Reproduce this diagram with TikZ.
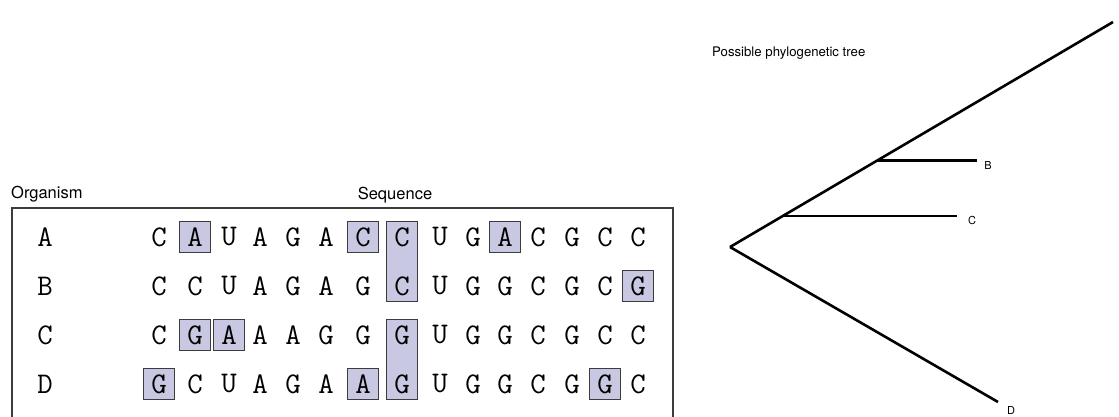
\documentclass[tikz,border=0pt]{standalone}
\usepackage{fontspec}
\newfontfamily\helv{TeX Gyre Heros}
\usetikzlibrary{fit,backgrounds,positioning,calc}

\definecolor{boxfill}{RGB}{200,200,226}
\definecolor{edge}{RGB}{60,60,60}

\tikzset{
  head/.style={font=\helv\fontsize{16.5}{18}\selectfont, inner sep=0pt},
  base/.style={font=\ttfamily\fontsize{30}{31}\selectfont, inner sep=0pt},
  cell/.style={base, minimum width=31pt, minimum height=31pt},
  hilite/.style={draw=edge, fill=boxfill, line width=1.3pt, inner sep=0pt},
  frame/.style={draw=edge, line width=1.3pt},
  branch/.style={line width=2.6pt},
  leaf/.style={font=\helv\fontsize{11}{12}\selectfont, inner sep=1pt},
  title/.style={font=\helv\fontsize{13.2}{14}\selectfont, inner sep=0pt}
}

\begin{document}
\begin{tikzpicture}[x=1pt,y=-1pt]
\path[use as bounding box, clip] (0,0) rectangle (1119,416);

% Headings
\node[head, anchor=west] (orglbl) at (11,194) {Organism};
\node[head] (seqlbl) at (395,195) {Sequence};

% Frame round the table
\draw[frame] (12,208) rectangle (673,440);

% Organism names
\foreach \r/\y in {A/237,B/286,C/335,D/384}
  \node[base] (o-\r) at (45,\y) {\r};

% Sequences
\foreach \r/\y/\seq in {A/237/{C,A,U,A,G,A,C,C,U,G,A,C,G,C,C},
                        B/286/{C,C,U,A,G,A,G,C,U,G,G,C,G,C,G},
                        C/335/{C,G,A,A,A,G,G,G,U,G,G,C,G,C,C},
                        D/384/{G,C,U,A,G,A,A,G,U,G,G,C,G,G,C}}
  \foreach \l [count=\i] in \seq {
    \pgfmathsetmacro{\x}{{159,195,229,260,293,326,363,402,440,473,505,538,572,605,638}[\i-1]}
    \node[cell] (s-\r-\i) at (\x,\y) {\l};
  }

% Highlighted differences
\begin{scope}[on background layer]
  \foreach \c in {A-2,A-7,A-11,B-15,C-2,C-3,D-1,D-7,D-14}
    \node[hilite, fit=(s-\c)] {};
  \node[hilite, fit=(s-A-8)(s-B-8)] (colAB) {};
  \node[hilite, fit=(s-C-8)(s-D-8)] (colCD) {};
\end{scope}

% Tree
\node[title, anchor=west] (treelbl) at (712,53) {Possible phylogenetic tree};

\coordinate (root) at (730,247);
\coordinate (tipA) at (1113,22);
\coordinate (jC) at ($(root)!0.138!(tipA)$);
\coordinate (jB) at ($(root)!0.384!(tipA)$);
\coordinate (endB) at ($(jB)+(100,0)$);
\coordinate (endC) at ($(jC)+(174,0)$);
\coordinate (endD) at (998,402);

\draw[branch] (root) -- (tipA);
\draw[branch] (root) -- (endD);
\draw[branch] (jB) -- (endB);
\draw[branch] (jC) -- (endC);

\node[leaf, right=6pt of endB, yshift=-5pt] (lB) {B};
\node[leaf, right=10pt of endC, yshift=-5pt] (lC) {C};
\node[leaf] (lD) at (1011,410) {D};

\end{tikzpicture}
\end{document}
